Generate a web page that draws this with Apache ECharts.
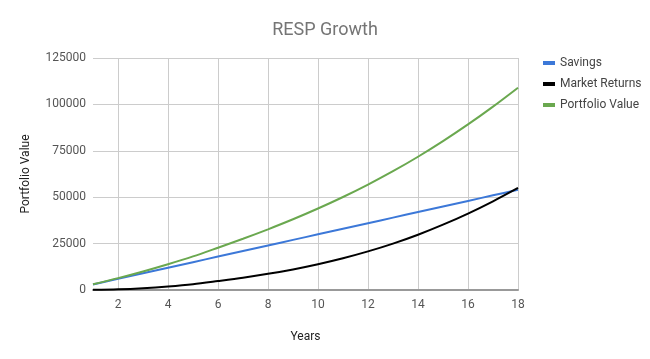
<!DOCTYPE html>
<html>
<head>
<meta charset="utf-8">
<script src="https://cdn.jsdelivr.net/npm/echarts@6/dist/echarts.min.js"></script>
<style>
html,body{margin:0;padding:0;background:#fff;}
#chart{width:650px;height:359px;}
</style>
</head>
<body>
<div id="chart"></div>
<script>
const years = [1,2,3,4,5,6,7,8,9,10,11,12,13,14,15,16,17,18];
const savings = [3000,6000,9000,12000,15000,18000,21000,24000,27000,30000,33000,36000,39000,42000,45000,48000,51000,54000];
const marketReturns = [100,400,1000,1900,3100,4800,6600,8700,11100,13900,17100,20800,25000,29800,35200,41200,47800,55000];
const portfolioValue = [3100,6400,10000,13900,18100,22800,27600,32700,38100,43900,50100,56800,64000,71800,80200,89200,98800,109000];
const yTicks = [0,25000,50000,75000,100000,125000];

const font = 'Roboto, Arial, sans-serif';
const chart = echarts.init(document.getElementById('chart'), null, {renderer:'canvas'});
chart.setOption({
  animation:false,
  backgroundColor:'#ffffff',
  title:{
    text:'RESP Growth', left:'center', top:16,
    textStyle:{fontFamily:font, fontSize:18, fontWeight:'normal', color:'#757575'}
  },
  legend:{
    orient:'vertical', left:538, top:52, itemWidth:12, itemHeight:4, itemGap:9,
    icon:'rect',
    textStyle:{fontFamily:font, fontSize:12, color:'#444444'},
    data:['Savings','Market Returns','Portfolio Value']
  },
  grid:{left:93, right:132, top:58, bottom:69, containLabel:false},
  xAxis:{
    type:'category', data:years, boundaryGap:false,
    name:'Years', nameLocation:'middle', nameGap:41,
    nameTextStyle:{fontFamily:font, fontSize:12, color:'#222222'},
    axisLine:{show:true, lineStyle:{color:'#999999', width:2}},
    axisTick:{show:false},
    axisLabel:{fontFamily:font, fontSize:12, color:'#555555', margin:9,
      interval:(i,v)=> Number(v)%2===0},
    splitLine:{show:true, interval:(i,v)=> Number(v)%2===0, lineStyle:{color:'#cccccc', width:1}}
  },
  yAxis:{
    type:'value', min:yTicks[0], max:yTicks[yTicks.length-1], interval:25000,
    name:'Portfolio Value', nameLocation:'middle', nameGap:61, nameRotate:90,
    nameTextStyle:{fontFamily:font, fontSize:12, color:'#222222'},
    axisLine:{show:false}, axisTick:{show:false},
    axisLabel:{fontFamily:font, fontSize:12, color:'#555555', margin:7, formatter:(v)=>String(v)},
    splitLine:{show:true, lineStyle:{color:'#cccccc', width:1}}
  },
  series:[
    {name:'Savings', type:'line', data:savings, showSymbol:false, smooth:0.3,
      lineStyle:{color:'#3c78d8', width:2}, itemStyle:{color:'#3c78d8'}},
    {name:'Market Returns', type:'line', data:marketReturns, showSymbol:false, smooth:0.3,
      lineStyle:{color:'#000000', width:2}, itemStyle:{color:'#000000'}},
    {name:'Portfolio Value', type:'line', data:portfolioValue, showSymbol:false, smooth:0.3,
      lineStyle:{color:'#6aa84f', width:2}, itemStyle:{color:'#6aa84f'}}
  ]
});
</script>
</body>
</html>
